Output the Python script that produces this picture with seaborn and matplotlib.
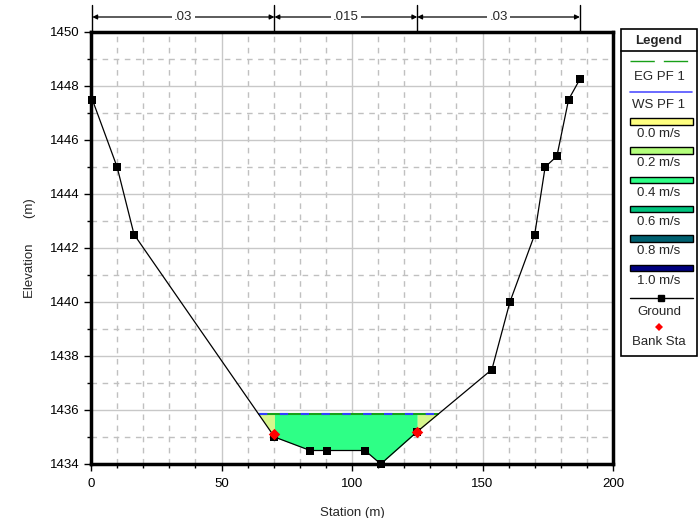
import numpy as np
import matplotlib
matplotlib.use("Agg")
import matplotlib.pyplot as plt
from matplotlib.patches import Rectangle
from matplotlib.ticker import MultipleLocator
import seaborn as sns
import pandas as pd

# ---------------- data ----------------
stations = [0.5, 10.0, 16.5, 70.3, 84.0, 90.5, 105.0, 111.0, 125.0, 153.6,
            160.5, 170.0, 174.0, 178.5, 183.0, 187.3]
elevations = [1447.5, 1445.0, 1442.5, 1435.0, 1434.5, 1434.5, 1434.5, 1434.0,
              1435.2, 1437.5, 1440.0, 1442.5, 1445.0, 1445.4, 1447.5, 1448.25]
bank_sta = [70.3, 125.0]
bank_elev = [1435.1, 1435.2]
ws_elev = 1435.85
eg_elev = 1435.86
n_values = ['.03', '.015', '.03']
n_breaks = [0.5, 70.3, 125.0, 187.3]
legend_labels = ['EG PF 1', 'WS PF 1', '0.0 m/s', '0.2 m/s', '0.4 m/s',
                 '0.6 m/s', '0.8 m/s', '1.0 m/s', 'Ground', 'Bank Sta']
vel_colors = ['#ffff80', '#b4ff7c', '#2eff86', '#00c47e', '#006070', '#000080']
overbank_color = '#d6f78c'
channel_color = '#2eff86'

sns.set_style('white')
plt.rcParams['font.family'] = ['Liberation Sans', 'DejaVu Sans']

fig = plt.figure(figsize=(7.0, 5.18), dpi=100)
ax = fig.add_axes([91/700, 1-464/518, (613-91)/700, (464-32)/518])

st = np.array(stations)
gr = np.array(elevations)
bl, br = bank_sta

# water edges (where ground crosses water surface)
def crossing(i, j, level):
    return st[i] + (level - gr[i]) * (st[j] - st[i]) / (gr[j] - gr[i])
wet = np.where(gr <= ws_elev)[0]
x_left = crossing(wet[0] - 1, wet[0], ws_elev)
x_right = crossing(wet[-1], wet[-1] + 1, ws_elev)

# water fills by zone (polygon between ground and water surface)
def zone_fill(a, b, color):
    a = max(a, x_left)
    b = min(b, x_right)
    inside = (st > a) & (st < b)
    xs = np.concatenate([[a], st[inside], [b]])
    ys = np.concatenate([[np.interp(a, st, gr)], gr[inside], [np.interp(b, st, gr)]])
    ys = np.minimum(ys, ws_elev)
    ax.fill_between(xs, ys, ws_elev, color=color, lw=0, zorder=2)

zone_fill(st[0], bl, overbank_color)
zone_fill(bl, br, channel_color)
zone_fill(br, st[-1], overbank_color)

ax.plot([x_left, x_right], [eg_elev, eg_elev], color='#18a018', lw=1.5, zorder=3)
ax.plot([x_left, x_right], [ws_elev, ws_elev], color='#3040ff', lw=1.5,
        dashes=(4, 6), zorder=3)

# ground and bank stations
df = pd.DataFrame({'Station': stations, 'Elevation': elevations})
sns.lineplot(data=df, x='Station', y='Elevation', ax=ax, sort=False, color='black',
             lw=0.9, marker='s', markersize=6, markeredgewidth=0, zorder=4,
             clip_on=False)
bdf = pd.DataFrame({'Station': bank_sta, 'Elevation': bank_elev})
sns.scatterplot(data=bdf, x='Station', y='Elevation', ax=ax, color='red', marker='D',
                s=34, linewidth=0, zorder=5)

ax.set_xlim(0, 200)
ax.set_ylim(1434, 1450)
ax.xaxis.set_major_locator(MultipleLocator(50))
ax.xaxis.set_minor_locator(MultipleLocator(10))
ax.yaxis.set_major_locator(MultipleLocator(2))
ax.yaxis.set_minor_locator(MultipleLocator(1))
ax.grid(which='major', color='#c8c8c8', lw=1.0, ls='-', zorder=0)
ax.grid(which='minor', color='#c0c0c0', lw=1.0, ls=(0, (4, 4)), zorder=0)
ax.set_axisbelow(True)
ax.tick_params(which='major', direction='out', length=5, width=1, colors='black',
               labelsize=9.5, left=True, bottom=True, pad=3)
ax.tick_params(axis='x', which='major', pad=5)
ax.tick_params(which='minor', direction='out', length=3, width=1, colors='black',
               left=True, bottom=True)
for s in ax.spines.values():
    s.set_linewidth(2.5)
    s.set_color('black')
ax.set_xlabel('Station (m)', fontsize=9.5, labelpad=12)
ax.set_ylabel('Elevation       (m)', fontsize=9.5, labelpad=10)

# Manning's n annotation
tr = ax.get_xaxis_transform()
y_top = 1 + 27/432
y_arrow = 1 + 15/432
for xb in n_breaks:
    ax.plot([xb, xb], [1.0, y_top], transform=tr, color='black', lw=1, clip_on=False)
for k, nv in enumerate(n_values):
    x0, x1 = n_breaks[k], n_breaks[k+1]
    ax.annotate('', xy=(x1, y_arrow), xytext=(x0, y_arrow), xycoords=tr, textcoords=tr,
                arrowprops=dict(arrowstyle='<|-|>', color='black', lw=0.9,
                                mutation_scale=7, shrinkA=0, shrinkB=0),
                annotation_clip=False)
    ax.text((x0 + x1) / 2, y_arrow, nv, transform=tr, ha='center', va='center',
            fontsize=9.5, bbox=dict(facecolor='white', edgecolor='none', pad=1.5))

# Legend drawn in pixel coordinates
lax = fig.add_axes([0, 0, 1, 1], zorder=10)
lax.set_xlim(0, 700)
lax.set_ylim(518, 0)
lax.axis('off')
lax.add_patch(Rectangle((621, 29), 76, 327, facecolor='white', edgecolor='black', lw=1.2))
lax.plot([621, 697], [51, 51], color='black', lw=1.2)
lax.text(659, 41, 'Legend', ha='center', va='center', fontsize=9.5, fontweight='bold')
cx = 659
# EG
lax.plot([630, 688], [61, 61], color='#18a018', lw=1, dashes=(17.5, 6.5))
lax.text(cx, 77, legend_labels[0], ha='center', va='center', fontsize=9.5)
# WS
lax.plot([630, 692], [92, 92], color='#5050ff', lw=1.2)
lax.text(cx, 105, legend_labels[1], ha='center', va='center', fontsize=9.5)
# velocity patches
for k in range(6):
    ytop = 118 + k * 29.3
    lax.add_patch(Rectangle((630, ytop), 63, 6.5, facecolor=vel_colors[k],
                            edgecolor='black', lw=1.0))
    lax.text(cx, ytop + 16, legend_labels[2 + k], ha='center', va='center', fontsize=9.5)
# Ground
lax.plot([630, 693], [298, 298], color='black', lw=1)
lax.plot([cx + 2], [298], marker='s', color='black', markersize=5)
lax.text(cx, 312, legend_labels[8], ha='center', va='center', fontsize=9.5)
# Bank Sta
lax.plot([cx], [327], marker='D', color='red', markersize=4.5, markeredgewidth=0)
lax.text(cx, 342, legend_labels[9], ha='center', va='center', fontsize=9.5)

fig.savefig('out.png', dpi=100, facecolor='white')
